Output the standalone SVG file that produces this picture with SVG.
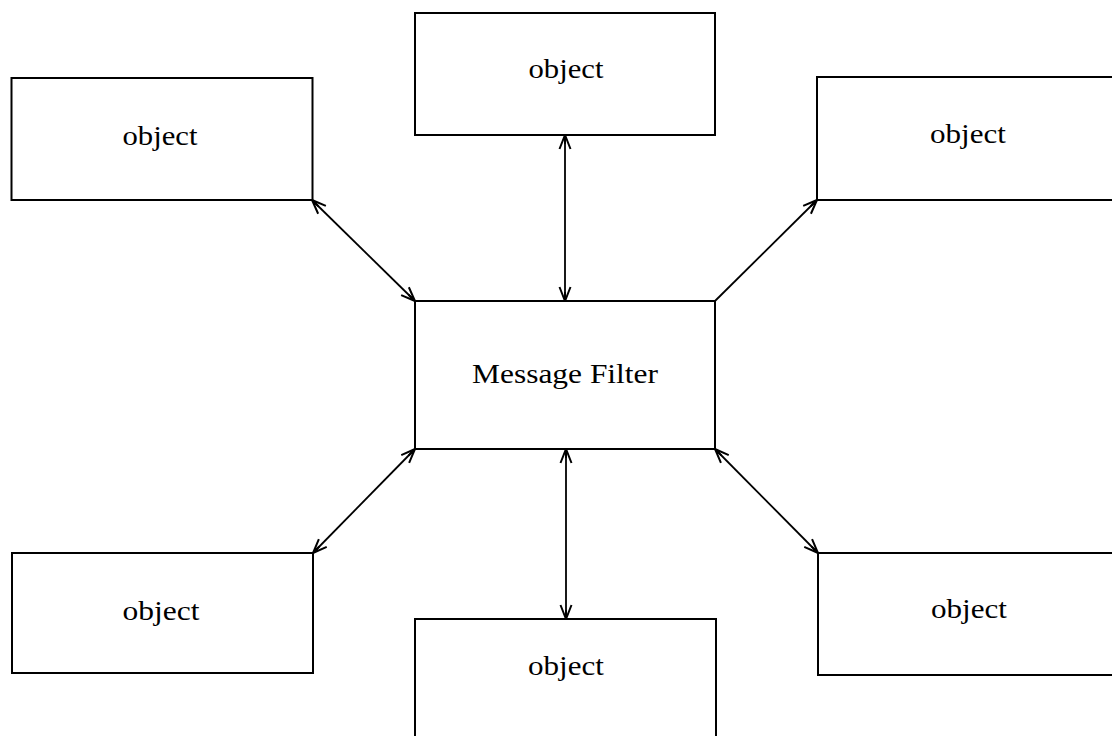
<svg xmlns="http://www.w3.org/2000/svg" width="1112" height="736" viewBox="0 0 1112 736">
<style>
.box{fill:#fff;stroke:#000;stroke-width:2}
.lbl{font-family:"Liberation Serif","Times New Roman",Times,serif;font-size:28px;fill:#000;text-anchor:middle}
.con{stroke:#000;stroke-width:1.8;fill:none}
</style>
<defs>
<marker id="ah" viewBox="0 0 16 14" refX="15" refY="7" markerWidth="16" markerHeight="14" markerUnits="userSpaceOnUse" orient="auto-start-reverse">
<path d="M1,1.5 L15,7 L1,12.5 M6,7 L15,7" fill="none" stroke="#000" stroke-width="2"/>
</marker>
</defs>
<rect width="1112" height="736" fill="#fff"/>
<g id="connectors">
<line class="con" x1="312" y1="200" x2="415" y2="301" marker-start="url(#ah)" marker-end="url(#ah)"/>
<line class="con" x1="565" y1="135" x2="565" y2="301" marker-start="url(#ah)" marker-end="url(#ah)"/>
<line class="con" x1="715" y1="301" x2="817" y2="200" marker-end="url(#ah)"/>
<line class="con" x1="415" y1="449" x2="313" y2="553" marker-start="url(#ah)" marker-end="url(#ah)"/>
<line class="con" x1="566" y1="449" x2="566" y2="619" marker-start="url(#ah)" marker-end="url(#ah)"/>
<line class="con" x1="715" y1="449" x2="818" y2="553" marker-start="url(#ah)" marker-end="url(#ah)"/>
</g>
<g id="node-tl"><rect class="box" x="11.5" y="78" width="301" height="122"/><text class="lbl" x="160" y="145" textLength="75" lengthAdjust="spacingAndGlyphs">object</text></g>
<g id="node-tc"><rect class="box" x="415" y="13" width="300" height="122"/><text class="lbl" x="566" y="78" textLength="75" lengthAdjust="spacingAndGlyphs">object</text></g>
<g id="node-tr"><rect class="box" x="817" y="77" width="300" height="123"/><text class="lbl" x="968" y="143" textLength="76" lengthAdjust="spacingAndGlyphs">object</text></g>
<g id="node-mf"><rect class="box" x="415" y="301" width="300" height="148"/><text class="lbl" x="565" y="383" textLength="186" lengthAdjust="spacingAndGlyphs">Message Filter</text></g>
<g id="node-bl"><rect class="box" x="12" y="553" width="301" height="120"/><text class="lbl" x="161" y="620" textLength="77" lengthAdjust="spacingAndGlyphs">object</text></g>
<g id="node-bc"><rect class="box" x="415" y="619" width="301" height="130"/><text class="lbl" x="566" y="675" textLength="76" lengthAdjust="spacingAndGlyphs">object</text></g>
<g id="node-br"><rect class="box" x="818" y="553" width="300" height="122"/><text class="lbl" x="969" y="618" textLength="76" lengthAdjust="spacingAndGlyphs">object</text></g>
</svg>
